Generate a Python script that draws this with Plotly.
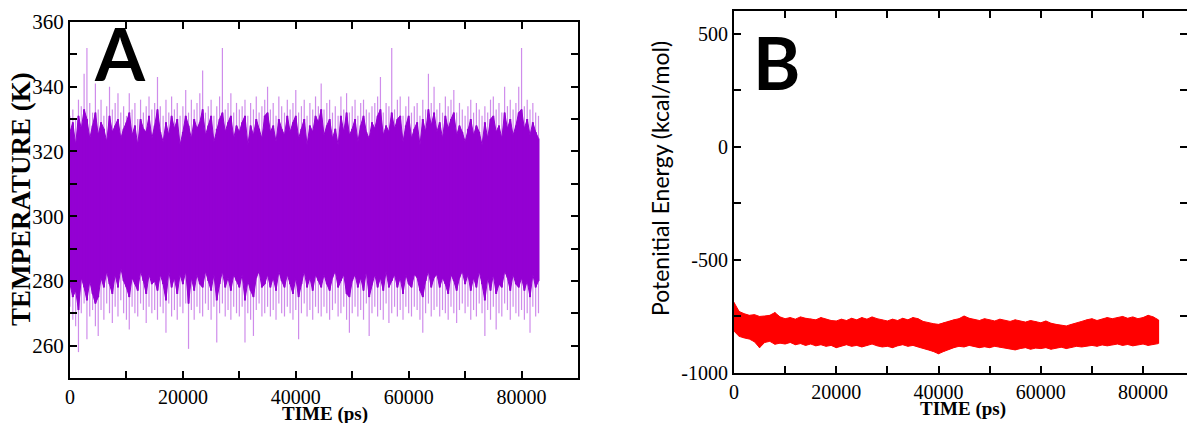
import plotly.graph_objects as go

# ---------------- Panel A: temperature (K) ----------------
# samples every 500 ps (0 .. 83000 ps)
a_time = [i * 500 for i in range(167)]
# outer (faint) spike tips and troughs
a_spike_hi = [
    331, 333, 330, 336, 334, 344, 352, 335, 332, 341,
    333, 336, 331, 334, 340, 333, 335, 338, 332, 334,
    331, 338, 333, 335, 330, 336, 332, 334, 337, 333,
    335, 343, 334, 331, 336, 332, 337, 333, 335, 331,
    334, 339, 332, 336, 333, 335, 338, 345, 332, 334,
    336, 331, 334, 337, 352, 333, 335, 338, 332, 335,
    333, 334, 336, 331, 335, 333, 337, 332, 334, 336,
    340, 333, 335, 331, 337, 334, 332, 336, 333, 335,
    339, 332, 334, 336, 331, 335, 333, 337, 334, 341,
    333, 335, 336, 332, 334, 331, 337, 333, 338, 332,
    334, 336, 331, 335, 336, 333, 332, 334, 335, 337,
    343, 332, 335, 334, 352, 333, 336, 337, 331, 334,
    337, 332, 334, 335, 331, 336, 333, 344, 335, 340,
    333, 335, 332, 337, 334, 336, 339, 332, 335, 333,
    331, 334, 336, 332, 335, 333, 331, 334, 332, 336,
    337, 333, 335, 332, 340, 334, 336, 333, 335, 340,
    352, 334, 336, 333, 335, 332, 331,
]
a_spike_lo = [
    272, 268, 266, 258, 270, 273, 262, 269, 271, 266,
    263, 271, 268, 273, 270, 267, 272, 269, 274, 270,
    268, 265, 272, 270, 269, 273, 271, 267, 272, 270,
    271, 268, 272, 270, 264, 273, 269, 271, 268, 272,
    270, 273, 259, 271, 268, 272, 270, 269, 273, 271,
    268, 272, 261, 270, 273, 269, 271, 268, 272, 270,
    269, 272, 261, 270, 268, 263, 271, 273, 269, 270,
    272, 269, 271, 268, 273, 270, 269, 272, 270, 268,
    271, 262, 270, 273, 269, 271, 268, 272, 270, 269,
    272, 270, 268, 271, 273, 269, 270, 272, 268, 264,
    270, 272, 269, 271, 268, 273, 263, 270, 272, 269,
    271, 268, 273, 267, 270, 272, 269, 271, 268, 272,
    270, 269, 272, 271, 268, 264, 270, 273, 269, 271,
    272, 269, 271, 270, 268, 272, 270, 267, 271, 273,
    270, 272, 268, 271, 269, 273, 270, 263, 271, 268,
    272, 265, 270, 269, 273, 271, 268, 272, 270, 269,
    271, 268, 270, 264, 272, 269, 270,
]
# dense (dark) part of the trace
a_dark_hi = [
    326, 329, 322, 331, 327, 333, 330, 324, 328, 332,
    325, 329, 327, 323, 331, 326, 328, 330, 324, 327,
    329, 332, 325, 328, 322, 330, 327, 326, 331, 324,
    328, 333, 326, 323, 329, 325, 331, 327, 330, 322,
    326, 331, 328, 324, 330, 327, 329, 333, 325, 328,
    331, 323, 327, 330, 332, 326, 329, 331, 324, 328,
    326, 329, 331, 322, 328, 325, 330, 327, 324, 331,
    332, 326, 328, 323, 330, 327, 325, 331, 326, 329,
    331, 324, 327, 330, 322, 328, 326, 331, 329, 333,
    325, 328, 330, 324, 327, 322, 331, 326, 332, 325,
    327, 330, 323, 328, 331, 326, 324, 329, 327, 331,
    333, 325, 328, 326, 332, 327, 330, 331, 323, 328,
    331, 324, 327, 329, 322, 330, 326, 333, 328, 332,
    326, 329, 324, 331, 327, 330, 332, 325, 328, 326,
    323, 327, 330, 325, 328, 326, 322, 329, 324, 330,
    331, 326, 328, 324, 332, 327, 330, 325, 328, 332,
    333, 327, 330, 325, 329, 326, 324,
]
a_dark_lo = [
    279, 275, 277, 271, 281, 278, 274, 280, 276, 273,
    275, 281, 278, 283, 279, 276, 282, 278, 284, 280,
    278, 275, 281, 279, 277, 283, 280, 276, 282, 279,
    280, 277, 282, 279, 274, 283, 278, 281, 276, 282,
    279, 283, 273, 281, 277, 282, 279, 278, 283, 280,
    277, 282, 274, 279, 283, 278, 281, 277, 282, 280,
    278, 282, 274, 280, 277, 275, 281, 283, 278, 279,
    282, 278, 281, 277, 283, 280, 278, 282, 279, 276,
    281, 275, 279, 283, 278, 281, 277, 282, 280, 278,
    282, 279, 277, 281, 283, 278, 280, 282, 276, 275,
    280, 282, 278, 281, 277, 283, 275, 279, 282, 278,
    281, 277, 283, 278, 280, 282, 278, 281, 276, 282,
    279, 278, 282, 281, 277, 275, 280, 283, 278, 281,
    282, 278, 281, 279, 276, 282, 280, 277, 281, 283,
    279, 282, 277, 281, 278, 283, 279, 274, 281, 277,
    282, 276, 279, 278, 283, 281, 277, 282, 279, 278,
    281, 277, 280, 275, 282, 278, 280,
]

# ---------------- Panel B: potential energy (kcal/mol) ----------------
b_time = [i * 1000 for i in range(84)]
b_hi = [
    -688, -728, -738, -745, -742, -750, -748, -745, -733, -752,
    -760, -755, -762, -752, -758, -760, -765, -755, -762, -768,
    -770, -762, -768, -758, -765, -755, -762, -752, -760, -765,
    -770, -762, -768, -758, -765, -755, -760, -772, -778, -782,
    -785, -778, -770, -765, -760, -748, -758, -762, -768, -760,
    -765, -770, -762, -768, -772, -765, -770, -775, -768, -772,
    -778, -770, -780, -785, -790, -792, -785, -780, -772, -765,
    -760, -768, -762, -755, -760, -755, -750, -758, -752, -760,
    -755, -745, -752, -765,
]
b_lo = [
    -815, -838, -845, -850, -862, -888, -865, -860, -873, -868,
    -872, -865, -875, -870, -878, -872, -880, -875, -882, -878,
    -888, -880, -875, -882, -878, -885, -878, -872, -880, -885,
    -882, -888, -880, -875, -882, -878, -885, -890, -898, -905,
    -915, -905, -895, -888, -882, -885, -878, -882, -888, -884,
    -888, -882, -886, -890, -894, -898, -892, -888, -895, -890,
    -892, -888, -895, -890, -886, -892, -888, -882, -885, -880,
    -878, -882, -876, -880, -875, -872, -878, -874, -880, -876,
    -872, -878, -875, -870,
]

# tick labels
a_x_ticks = [0, 20000, 40000, 60000, 80000]
a_x_labels = ["0", "20000", "40000", "60000", "80000"]
a_y_ticks = [260, 280, 300, 320, 340, 360]
a_y_labels = ["260", "280", "300", "320", "340", "360"]
b_x_ticks = [0, 20000, 40000, 60000, 80000]
b_x_labels = ["0", "20000", "40000", "60000", "80000"]
b_y_ticks = [-1000, -500, 0, 500]
b_y_labels = ["-1000", "-500", "0", "500"]

W, H = 1187, 423
def px(x):
    return x / W
def py(y):
    return 1 - y / H

def segments(ts, lo, hi):
    xs, ys = [], []
    for t, a, b in zip(ts, lo, hi):
        xs += [t, t, None]
        ys += [a, b, None]
    return xs, ys

fig = go.Figure()

# Panel A faint outer spikes
sx, sy = segments(a_time, a_spike_lo, a_spike_hi)
fig.add_trace(go.Scatter(x=sx, y=sy, mode="lines", xaxis="x", yaxis="y",
                         line=dict(color="rgba(148,0,211,0.45)", width=1.2),
                         hoverinfo="skip", showlegend=False))
# Panel A dense dark part: filled band + jagged edges
fig.add_trace(go.Scatter(x=a_time, y=a_dark_lo, mode="lines", xaxis="x", yaxis="y",
                         line=dict(color="#9400D3", width=1), hoverinfo="skip",
                         showlegend=False))
fig.add_trace(go.Scatter(x=a_time, y=a_dark_hi, mode="lines", xaxis="x", yaxis="y",
                         line=dict(color="#9400D3", width=1), fill="tonexty",
                         fillcolor="#9400D3", hoverinfo="skip", showlegend=False))
dx, dy = segments(a_time, a_dark_lo, a_dark_hi)
fig.add_trace(go.Scatter(x=dx, y=dy, mode="lines", xaxis="x", yaxis="y",
                         line=dict(color="#9400D3", width=2),
                         hoverinfo="skip", showlegend=False))

# Panel B band
fig.add_trace(go.Scatter(x=b_time, y=b_lo, mode="lines", xaxis="x2", yaxis="y2",
                         line=dict(color="#FF0000", width=1), hoverinfo="skip",
                         showlegend=False))
fig.add_trace(go.Scatter(x=b_time, y=b_hi, mode="lines", xaxis="x2", yaxis="y2",
                         line=dict(color="#FF0000", width=1), fill="tonexty",
                         fillcolor="#FF0000", hoverinfo="skip", showlegend=False))
bx, by = segments(b_time, b_lo, b_hi)
fig.add_trace(go.Scatter(x=bx, y=by, mode="lines", xaxis="x2", yaxis="y2",
                         line=dict(color="#FF0000", width=1.5),
                         hoverinfo="skip", showlegend=False))

def axis_style(tickvals, ticktext, minor_dtick, rng, domain, size, anchor):
    return dict(
        domain=domain, range=rng, anchor=anchor, automargin=False,
        showline=True, linecolor="black", linewidth=2, mirror="allticks",
        ticks="inside", ticklen=7, tickwidth=2, tickcolor="black",
        tickmode="array", tickvals=tickvals, ticktext=ticktext,
        tickfont=dict(family="Liberation Serif", size=size, color="black"),
        showgrid=False, zeroline=False,
        minor=dict(ticks="inside", ticklen=7, tickwidth=2, tickcolor="black",
                   dtick=minor_dtick, tick0=0, showgrid=False),
    )

fig.update_layout(
    width=W, height=H,
    margin=dict(l=0, r=0, t=0, b=0),
    paper_bgcolor="white", plot_bgcolor="white",
    xaxis=axis_style(a_x_ticks, a_x_labels, 10000, [0, 90000], [px(70), px(578)], 20, "y"),
    yaxis=axis_style(a_y_ticks, a_y_labels, 10, [250, 360], [py(378), py(22)], 21, "x"),
    xaxis2=axis_style(b_x_ticks, b_x_labels, 10000, [0, 88600], [px(734), 1.0], 20, "y2"),
    yaxis2=axis_style(b_y_ticks, b_y_labels, 250, [-1000, 600], [py(373), py(11)], 20, "x2"),
)

ann = [
    dict(text="<b>A</b>", x=px(120), y=py(53), font=dict(family="Lato", size=72, color="black")),
    dict(text="<b>B</b>", x=px(776), y=py(62), font=dict(family="Lato", size=72, color="black")),
    dict(text="<b>TEMPERATURE (K)</b>", x=px(21), y=py(199), textangle=-90,
         font=dict(family="Liberation Serif", size=27, color="black")),
    dict(text="<b>TIME (ps)</b>", x=px(325), y=py(414),
         font=dict(family="Liberation Serif", size=19, color="black")),
    dict(text="<b>TIME (ps)</b>", x=px(963), y=py(409),
         font=dict(family="Liberation Serif", size=19, color="black")),
    dict(text="Potenitial Energy (kcal/mol)", x=px(660), y=py(179), textangle=-90,
         font=dict(family="Lato", size=23, color="black")),
]
for a in ann:
    a.update(xref="paper", yref="paper", showarrow=False, xanchor="center", yanchor="middle")
fig.update_layout(annotations=ann)

fig.write_html("out.html", config={"displayModeBar": False},
               post_script="document.body.style.margin='0';document.body.style.overflow='hidden';")
